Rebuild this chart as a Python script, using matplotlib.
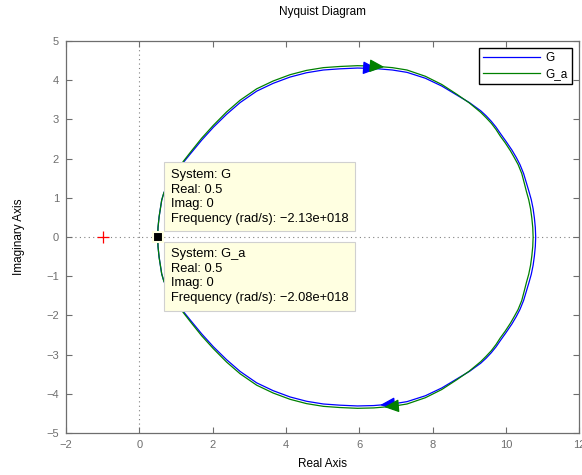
import numpy as np
import matplotlib
matplotlib.use("Agg")
import matplotlib.pyplot as plt

plt.rcParams['font.family'] = ['Liberation Sans', 'DejaVu Sans']

# upper half of each Nyquist curve (negative frequencies)
g_re = [0.50, 0.51, 0.54, 0.61, 0.67, 0.80, 1.00, 1.20, 1.40, 1.70, 2.02, 2.38, 2.75,
        3.20, 3.65, 4.11, 4.56, 5.02, 5.47, 5.95, 6.39, 6.90, 7.30, 7.80, 8.25,
        8.66, 9.00, 9.31, 9.46, 9.60, 9.73, 9.84, 10.00, 10.16, 10.28, 10.38,
        10.48, 10.56, 10.63, 10.69, 10.74, 10.775, 10.80, 10.81]
g_im = [0.00, 0.25, 0.52, 0.94, 1.13, 1.36, 1.64, 1.90, 2.13, 2.47, 2.80, 3.13, 3.43,
        3.72, 3.92, 4.08, 4.19, 4.26, 4.29, 4.31, 4.30, 4.26, 4.20, 4.05, 3.85,
        3.62, 3.43, 3.22, 3.09, 2.95, 2.80, 2.65, 2.44, 2.22, 2.03, 1.85,
        1.62, 1.37, 1.15, 0.95, 0.72, 0.48, 0.24, 0.00]

ga_re = [0.50, 0.51, 0.54, 0.61, 0.67, 0.80, 1.00, 1.20, 1.40, 1.70, 2.02, 2.38, 2.75,
         3.20, 3.65, 4.11, 4.56, 5.02, 5.47, 5.95, 6.39, 6.90, 7.30, 7.80, 8.25,
         8.66, 9.00, 9.31, 9.46, 9.60, 9.73, 9.84, 9.98, 10.12, 10.23, 10.33,
         10.43, 10.50, 10.56, 10.62, 10.67, 10.705, 10.73, 10.74]
ga_im = [0.00, 0.25, 0.52, 0.94, 1.13, 1.37, 1.66, 1.93, 2.17, 2.52, 2.85, 3.19, 3.49,
         3.78, 3.98, 4.14, 4.25, 4.32, 4.35, 4.37, 4.36, 4.32, 4.26, 4.10, 3.89,
         3.64, 3.42, 3.18, 3.04, 2.90, 2.74, 2.58, 2.40, 2.20, 2.02, 1.85,
         1.62, 1.37, 1.15, 0.95, 0.72, 0.48, 0.24, 0.00]

# where the direction arrows sit (real part): upper half, lower half
g_arrows = [6.50, 6.57]
ga_arrows = [6.68, 6.68]

names = ['G', 'G_a']
colors = ['#0000ff', '#008000']

tip_point = (0.5, 0.0)
tip_text = ["System: G\nReal: 0.5\nImag: 0\nFrequency (rad/s): \u22122.13e+018",
            "System: G_a\nReal: 0.5\nImag: 0\nFrequency (rad/s): \u22122.08e+018"]

fig = plt.figure(figsize=(5.82, 4.75), dpi=100)
ax = fig.add_axes([0.1134, 0.0884, 0.882, 0.8253])

ax.axhline(0, color='#808080', ls=(0, (1, 3)), lw=0.8, zorder=1)
ax.axvline(0, color='#808080', ls=(0, (1, 3)), lw=0.8, zorder=1)
ax.plot(-1, 0, '+', color='red', ms=8, mew=0.9, zorder=2)

curves = [(g_re, g_im, g_arrows), (ga_re, ga_im, ga_arrows)]
for (re, im, arr), name, c in zip(curves, names, colors):
    re = np.array(re)
    im = np.array(im)
    # full contour: upper half plus its mirror image (positive frequencies)
    full_re = np.concatenate([re, re[::-1]])
    full_im = np.concatenate([im, -im[::-1]])
    ax.plot(full_re, full_im, color=c, lw=0.9, label=name, zorder=3)

    # arrow on upper half points right, on lower half points left
    up_x = arr[0]
    up_y = np.interp(up_x, re, im)
    ax.annotate('', xy=(up_x, up_y), xytext=(up_x - 0.15, np.interp(up_x - 0.15, re, im)),
                arrowprops=dict(arrowstyle='-|>,head_length=0.9,head_width=0.4', color=c,
                                lw=0.9, shrinkA=0, shrinkB=0, mutation_scale=10), zorder=4)
    lo_x = arr[1]
    ax.annotate('', xy=(lo_x, -np.interp(lo_x, re, im)),
                xytext=(lo_x + 0.15, -np.interp(lo_x + 0.15, re, im)),
                arrowprops=dict(arrowstyle='-|>,head_length=0.9,head_width=0.4', color=c,
                                lw=0.9, shrinkA=0, shrinkB=0, mutation_scale=10), zorder=4)

# data tips
box = dict(boxstyle='square,pad=0.5', fc='#ffffe1', ec='#d0d0d0', lw=0.8)
ax.annotate(tip_text[0], xy=tip_point, xytext=(13, 12), textcoords='offset pixels',
            ha='left', va='bottom', fontsize=9.3, linespacing=1.3, bbox=box, zorder=6)
ax.annotate(tip_text[1], xy=tip_point, xytext=(13, -11), textcoords='offset pixels',
            ha='left', va='top', fontsize=9.3, linespacing=1.3, bbox=box, zorder=6)
ax.plot(*tip_point, 's', color='black', ms=6.5, mec='#ffffe1', mew=1.5, zorder=7)

ax.set_xlim(-2, 12)
ax.set_ylim(-5, 5)
ax.set_xticks(np.arange(-2, 13, 2))
ax.set_yticks(np.arange(-5, 6, 1))
ax.tick_params(direction='in', top=True, right=True, length=4, width=0.8,
               colors='#6e6e6e', labelsize=8, pad=5)
for s in ax.spines.values():
    s.set_color('#6e6e6e')
    s.set_linewidth(0.9)

ax.set_title('Nyquist Diagram', fontsize=8.5, pad=19)
ax.set_xlabel('Real Axis', fontsize=8.5, labelpad=6)
ax.set_ylabel('Imaginary Axis', fontsize=8.5, labelpad=15)

leg = ax.legend(loc='upper right', bbox_to_anchor=(0.986, 0.982), borderaxespad=0,
                fontsize=8.5, handlelength=4.8, fancybox=False, framealpha=1,
                edgecolor='black', borderpad=0.35, labelspacing=0.35, handletextpad=0.5)
leg.get_frame().set_linewidth(1.0)
leg.set_zorder(8)

fig.savefig('out.png', dpi=100)
